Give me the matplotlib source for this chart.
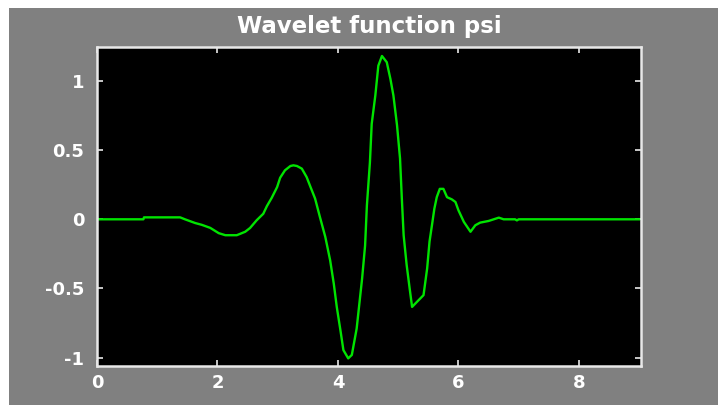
import matplotlib
matplotlib.use("Agg")
import matplotlib.pyplot as plt
from matplotlib.patches import Rectangle

title = "Wavelet function psi"

x_vals = [0.00, 0.77, 0.78, 1.38, 1.46, 1.63, 1.74, 1.88, 2.02, 2.13,
          2.32, 2.46, 2.54, 2.65, 2.76, 2.82, 2.90, 2.99, 3.04, 3.12,
          3.21, 3.26, 3.32, 3.40, 3.48, 3.54, 3.62, 3.70, 3.79, 3.87,
          3.93, 3.98, 4.04, 4.09, 4.17, 4.23, 4.31, 4.40, 4.45, 4.48,
          4.53, 4.56, 4.62, 4.67, 4.73, 4.81, 4.87, 4.92, 4.98, 5.03,
          5.06, 5.09, 5.14, 5.19, 5.23, 5.31, 5.42, 5.48, 5.52, 5.56,
          5.60, 5.64, 5.69, 5.75, 5.81, 5.89, 5.95, 6.00, 6.09, 6.20,
          6.28, 6.36, 6.50, 6.67, 6.75, 6.94, 6.97, 7.00, 9.00]

psi_vals = [0.000, 0.000, 0.014, 0.014, 0.000, -0.027, -0.040, -0.062, -0.100, -0.115,
            -0.115, -0.090, -0.063, -0.007, 0.040, 0.095, 0.155, 0.233, 0.300, 0.354,
            0.385, 0.390, 0.385, 0.366, 0.305, 0.238, 0.150, 0.017, -0.128, -0.296,
            -0.464, -0.633, -0.800, -0.945, -1.005, -0.980, -0.790, -0.430, -0.190, 0.100,
            0.410, 0.690, 0.895, 1.110, 1.180, 1.135, 1.015, 0.895, 0.680, 0.440,
            0.150, -0.115, -0.330, -0.500, -0.633, -0.597, -0.548, -0.356, -0.160, -0.043,
            0.077, 0.160, 0.220, 0.220, 0.160, 0.144, 0.125, 0.065, -0.019, -0.090,
            -0.043, -0.024, -0.012, 0.012, 0.000, 0.000, -0.008, 0.000, 0.000]

x_ticks = [0, 2, 4, 6, 8]
x_tick_labels = ["0", "2", "4", "6", "8"]
y_ticks = [-1, -0.5, 0, 0.5, 1]
y_tick_labels = ["-1", "-0.5", "0", "0.5", "1"]

W, H = 718, 405
fig = plt.figure(figsize=(W / 100, H / 100), dpi=100, facecolor="white")
bg = Rectangle((9 / W, 0), 1 - 9 / W, 1 - 8 / H, transform=fig.transFigure,
               facecolor="#808080", edgecolor="none", zorder=-10)
fig.add_artist(bg)

ax = fig.add_axes([97 / W, (H - 366) / H, (641 - 97) / W, (366 - 47) / H])
ax.set_zorder(1)
ax.set_facecolor("black")
ax.plot(x_vals, psi_vals, color="#00e400", lw=1.7)

ax.set_xlim(0, 9.03)
ax.set_ylim(-1.06, 1.245)
ax.set_xticks(x_ticks)
ax.set_xticklabels(x_tick_labels)
ax.set_yticks(y_ticks)
ax.set_yticklabels(y_tick_labels)

for sp in ax.spines.values():
    sp.set_color("#e8e8e8")
    sp.set_linewidth(1.8)

ax.tick_params(axis="both", which="both", direction="in", length=4, width=1.2,
               color="#e8e8e8", top=True, right=True,
               labelcolor="white", labelsize=13)
ax.tick_params(axis="x", pad=6)
ax.tick_params(axis="y", pad=9)
for lab in ax.get_xticklabels() + ax.get_yticklabels():
    lab.set_fontweight("bold")
    lab.set_family("DejaVu Sans")

ax.set_title(title, color="white", fontsize=16.5, fontweight="bold",
             family="DejaVu Sans", pad=10)

fig.savefig("out.png", dpi=100, facecolor=fig.get_facecolor())
